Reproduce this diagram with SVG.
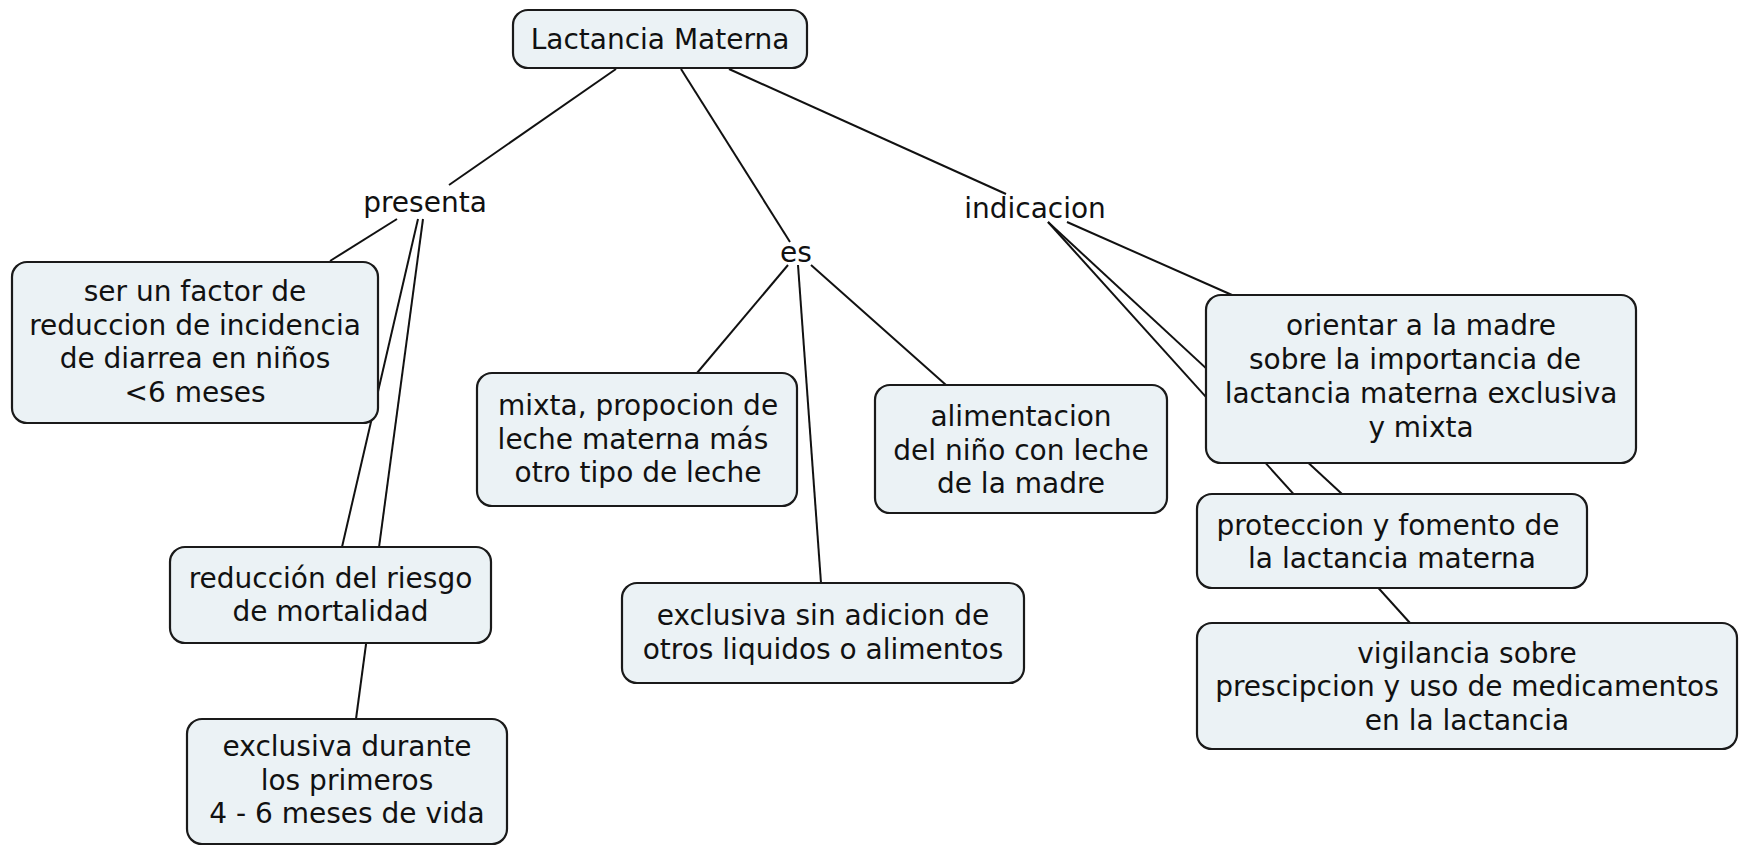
<svg xmlns="http://www.w3.org/2000/svg" width="1747" height="846" viewBox="0 0 1747 846">
<style>
.box{fill:#ebf2f5;stroke:#1a1a1a;stroke-width:2.2}
.t{font-family:"DejaVu Sans","Verdana",sans-serif;font-size:28px;fill:#111;text-anchor:middle}
.c line{stroke:#111;stroke-width:2}
</style>
<rect width="1747" height="846" fill="#ffffff"/>
<g id="connectors" class="c">
<line x1="616" y1="69" x2="449" y2="185"/>
<line x1="681" y1="69" x2="790" y2="242"/>
<line x1="729" y1="69" x2="1006" y2="194"/>
<line x1="397" y1="219" x2="330" y2="261"/>
<line x1="418" y1="219" x2="342" y2="547"/>
<line x1="423" y1="219" x2="356" y2="719"/>
<line x1="788" y1="265" x2="697" y2="373"/>
<line x1="798" y1="265" x2="821" y2="583"/>
<line x1="811" y1="265" x2="946" y2="385"/>
<line x1="1067" y1="222" x2="1232" y2="295"/>
<line x1="1048" y1="222" x2="1342" y2="494"/>
<line x1="1048" y1="222" x2="1410" y2="623"/>
</g>
<g id="n-lactancia"><rect class="box" x="513" y="10" width="294" height="58" rx="15"/><text class="t" x="660" y="49">Lactancia Materna</text></g>
<g id="l-presenta"><text class="t" x="425" y="212">presenta</text></g>
<g id="l-es"><text class="t" x="796" y="262">es</text></g>
<g id="l-indicacion"><text class="t" x="1035" y="218">indicacion</text></g>
<g id="n-factor"><rect class="box" x="12" y="262" width="366" height="161" rx="15"/>
<text class="t" x="195"><tspan x="195" y="301">ser un factor de</tspan><tspan x="195" y="334.5">reduccion de incidencia</tspan><tspan x="195" y="368">de diarrea en niños</tspan><tspan x="195" y="401.5">&lt;6 meses</tspan></text></g>
<g id="n-reduccion"><rect class="box" x="170" y="547" width="321" height="96" rx="15"/>
<text class="t"><tspan x="330.5" y="587.5">reducción del riesgo</tspan><tspan x="330.5" y="621">de mortalidad</tspan></text></g>
<g id="n-exclusiva-durante"><rect class="box" x="187" y="719" width="320" height="125" rx="15"/>
<text class="t"><tspan x="347" y="756">exclusiva durante</tspan><tspan x="347" y="789.5">los primeros</tspan><tspan x="347" y="823">4 - 6 meses de vida</tspan></text></g>
<g id="n-mixta"><rect class="box" x="477" y="373" width="320" height="133" rx="15"/>
<text class="t"><tspan x="638" y="415">mixta, propocion de</tspan><tspan x="633" y="448.5">leche materna más</tspan><tspan x="638" y="482">otro tipo de leche</tspan></text></g>
<g id="n-exclusiva-sin"><rect class="box" x="622" y="583" width="402" height="100" rx="15"/>
<text class="t"><tspan x="823" y="625">exclusiva sin adicion de</tspan><tspan x="823" y="658.5">otros liquidos o alimentos</tspan></text></g>
<g id="n-alimentacion"><rect class="box" x="875" y="385" width="292" height="128" rx="15"/>
<text class="t"><tspan x="1021" y="426">alimentacion</tspan><tspan x="1021" y="459.5">del niño con leche</tspan><tspan x="1021" y="493">de la madre</tspan></text></g>
<g id="n-orientar"><rect class="box" x="1206" y="295" width="430" height="168" rx="15"/>
<text class="t"><tspan x="1421" y="335">orientar a la madre</tspan><tspan x="1415" y="369">sobre la importancia de</tspan><tspan x="1421" y="403">lactancia materna exclusiva</tspan><tspan x="1421" y="437">y mixta</tspan></text></g>
<g id="n-proteccion"><rect class="box" x="1197" y="494" width="390" height="94" rx="15"/>
<text class="t"><tspan x="1388" y="534.5">proteccion y fomento de</tspan><tspan x="1392" y="568">la lactancia materna</tspan></text></g>
<g id="n-vigilancia"><rect class="box" x="1197" y="623" width="540" height="126" rx="15"/>
<text class="t"><tspan x="1467" y="662.5">vigilancia sobre</tspan><tspan x="1467" y="696">prescipcion y uso de medicamentos</tspan><tspan x="1467" y="729.5">en la lactancia</tspan></text></g>
</svg>
